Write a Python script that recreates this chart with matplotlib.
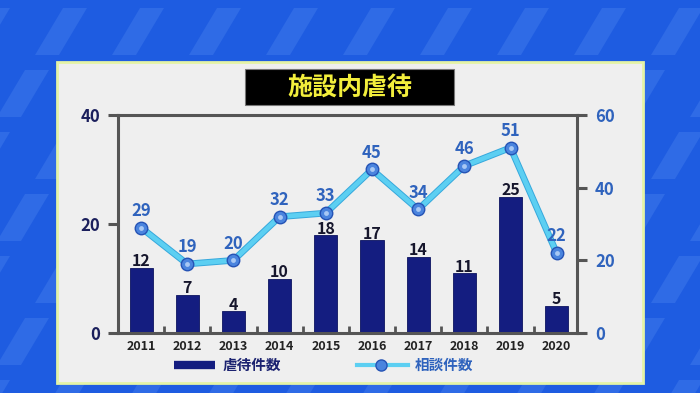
import numpy as np
import matplotlib.pyplot as plt
import matplotlib.patches as mpatches
import matplotlib.patheffects as pe
from matplotlib.lines import Line2D

plt.rcParams['font.family'] = ['Noto Sans CJK JP', 'DejaVu Sans']

#
# Data
#
years = ["2011", "2012", "2013", "2014", "2015", "2016", "2017", "2018", "2019", "2020"]
abuse_cases = [12, 7, 4, 10, 18, 17, 14, 11, 25, 5]
consult_cases = [29, 19, 20, 32, 33, 45, 34, 46, 51, 22]
left_ticks = [0, 20, 40]
right_ticks = [0, 20, 40, 60]

title = "施設内虐待"
bar_name = "虐待件数"
line_name = "相談件数"

# colours
bg_blue = "#1e5ce1"
stripe_blue = "#2f6be6"
navy = "#141d80"
cyan = "#5ccff2"
label_blue = "#2f63bd"
spine_grey = "#555555"

W, H = 700, 393
fig = plt.figure(figsize=(7, 3.93), dpi=100)
fig.patch.set_facecolor(bg_blue)


def fx(px):
    return px / W


def fy(py):
    return 1 - py / H


# Background stripes
for row, y0 in enumerate(range(-54, 420, 62)):
    shift = (row % 2) * 38
    for x0 in range(-80, 780, 77):
        xb = x0 + shift
        pts = [(fx(xb), fy(y0 + 47)), (fx(xb + 24), fy(y0 + 47)),
               (fx(xb + 52), fy(y0)), (fx(xb + 28), fy(y0))]
        fig.add_artist(mpatches.Polygon(pts, closed=True, transform=fig.transFigure,
                                        facecolor=stripe_blue, edgecolor="none", zorder=0))

# White panel
fig.add_artist(mpatches.Rectangle((fx(57), fy(383)), fx(643) - fx(57), (383 - 62) / H,
                                  transform=fig.transFigure, facecolor="#efefef",
                                  edgecolor="#e4f3a6", linewidth=2, zorder=1))

# Title box
fig.add_artist(mpatches.Rectangle((fx(245), fy(105)), fx(454) - fx(245), (105 - 69) / H,
                                  transform=fig.transFigure, facecolor="black",
                                  edgecolor="#777777", linewidth=0.8, zorder=2))
fig.text(fx(349.5), fy(87.5), title, ha="center", va="center", fontsize=18,
         fontweight="bold", color="#f2ee3c", zorder=3)

#
# Main axes
#
ax = fig.add_axes([fx(118), fy(333), fx(577) - fx(118), (333 - 115) / H])
ax.set_facecolor("none")
ax.set_zorder(5)
x = np.arange(len(years))

ax.bar(x, abuse_cases, width=0.5, color=navy, edgecolor="#0d1460", linewidth=0.6, zorder=2)
for i, v in enumerate(abuse_cases):
    ax.annotate(str(v), (i, v), xytext=(0, 1), textcoords="offset points",
                ha="center", va="baseline", fontsize=11.5, fontweight="bold", color="#16162c")

ax.set_xlim(-0.5, 9.44)
ax.set_ylim(0, 40)
ax.set_yticks(left_ticks)
ax.set_xticks(x, years)
ax.set_xticks(np.arange(0.5, len(years) - 1, 1), minor=True)
ax.tick_params(axis="x", which="major", length=0, pad=5, labelsize=9, labelcolor="#222222")
ax.tick_params(axis="x", which="minor", direction="in", length=5, width=2, color=spine_grey)
ax.tick_params(axis="y", length=7, width=2.2, color=spine_grey, pad=6,
               labelsize=12, labelcolor="#1b1f5c")
for lab in ax.get_xticklabels() + ax.get_yticklabels():
    lab.set_fontweight("bold")
for s in ["left", "bottom", "top"]:
    ax.spines[s].set_color(spine_grey)
    ax.spines[s].set_linewidth(2.2)
ax.spines["right"].set_visible(False)

#
# Right axes (consultations)
#
ax2 = ax.twinx()
ax2.set_ylim(0, 60)
ax2.set_yticks(right_ticks)
ax2.tick_params(axis="y", length=7, width=2.2, color=spine_grey, pad=6,
                labelsize=12, labelcolor=label_blue)
for lab in ax2.get_yticklabels():
    lab.set_fontweight("bold")
for s in ["left", "bottom", "top"]:
    ax2.spines[s].set_visible(False)
ax2.spines["right"].set_color(spine_grey)
ax2.spines["right"].set_linewidth(2.2)

ax2.plot(x, consult_cases, color=cyan, linewidth=3.4, solid_capstyle="round",
         path_effects=[pe.Stroke(linewidth=4.8, foreground="#36a8dc"), pe.Normal()], zorder=3)
ax2.plot(x, consult_cases, "o", markersize=9, markerfacecolor="#4a84de",
         markeredgecolor="#2553b5", markeredgewidth=1, zorder=4)
ax2.plot(x, consult_cases, "o", markersize=3.5, markerfacecolor="#a8c8f4",
         markeredgecolor="none", zorder=5)
for i, v in enumerate(consult_cases):
    ax2.annotate(str(v), (i, v), xytext=(0, 12), textcoords="offset points",
                 ha="center", va="center", fontsize=12, fontweight="bold", color=label_blue)

#
# Legend (drawn by hand)
#
fig.add_artist(Line2D([fx(174), fx(215)], [fy(364.5), fy(364.5)], transform=fig.transFigure,
                      color=navy, linewidth=6, solid_capstyle="butt", zorder=6))
fig.text(fx(223), fy(365), bar_name, ha="left", va="center", fontsize=10.5,
         fontweight="bold", color="#1b2270", zorder=6)
fig.add_artist(Line2D([fx(357), fx(408)], [fy(364.5), fy(364.5)], transform=fig.transFigure,
                      color=cyan, linewidth=3, zorder=6))
fig.add_artist(Line2D([fx(381)], [fy(364.5)], transform=fig.transFigure, marker="o",
                      markersize=8, markerfacecolor="#4a84de", markeredgecolor="#2553b5",
                      linestyle="none", zorder=7))
fig.text(fx(415), fy(365), line_name, ha="left", va="center", fontsize=10.5,
         fontweight="bold", color=label_blue, zorder=6)

fig.savefig("out.png", dpi=100, facecolor=fig.get_facecolor())
